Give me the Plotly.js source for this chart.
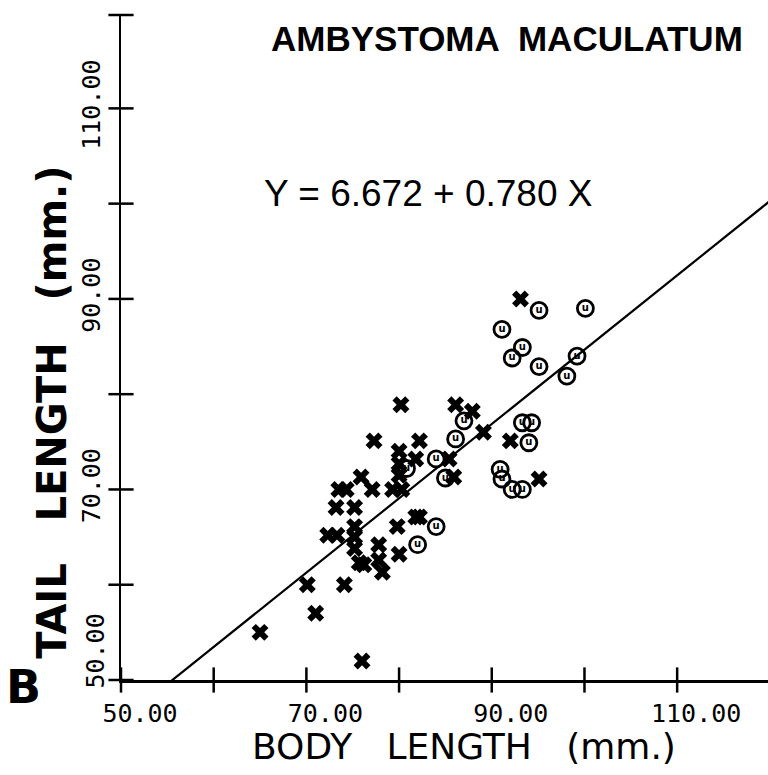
<!DOCTYPE html>
<html>
<head>
<meta charset="utf-8">
<script src="https://cdn.plot.ly/plotly-3.0.1.min.js"></script>
<style>html,body{margin:0;padding:0;background:#fff;}#chart{width:768px;height:775px;}</style>
</head>
<body>
<div id="chart"></div>
<script>
// Crosses (asterisk markers): body length (mm) and tail length (mm)
const crossBody = [65.0, 70.1, 71.0, 74.1, 76.0, 72.3, 73.3, 75.2, 75.2, 75.2, 73.2, 75.2, 73.5, 74.3, 75.9, 77.1, 79.3, 80.3,
  77.3, 82.2, 80.2, 86.1, 80.0, 80.0, 80.0, 81.8, 79.8, 80.0, 77.8, 77.8, 75.7, 76.2, 78.2, 82.2, 81.8, 85.4, 85.9,
  93.1, 89.1, 92.0, 95.1, 87.9];
const crossTail = [55.0, 60.0, 57.0, 60.0, 52.0, 65.2, 65.2, 66.1, 65.0, 63.8, 68.1, 68.1, 70.0, 70.0, 71.3, 70.0, 70.0, 70.0,
  75.1, 75.1, 78.9, 78.9, 74.0, 72.7, 71.5, 73.2, 66.1, 63.2, 64.2, 62.6, 62.3, 62.1, 61.3, 67.1, 67.1, 73.2, 71.3,
  90.0, 76.0, 75.1, 71.1, 78.2];
// Circles (G markers)
const circBody = [87.0, 86.1, 84.0, 85.0, 84.0, 82.0, 95.1, 100.1, 91.1, 93.3, 92.2, 95.1, 99.2, 98.1, 93.3, 94.3, 94.0,
  90.9, 91.1, 92.2, 93.3, 80.8];
const circTail = [77.2, 75.3, 73.2, 71.2, 66.1, 64.2, 88.8, 89.0, 86.8, 84.9, 83.8, 82.9, 84.0, 81.9, 77.0, 77.0, 74.9,
  72.1, 71.1, 70.0, 70.0, 72.2];
// Regression: Y = 6.672 + 0.780 X
const intercept = 6.672, slope = 0.780;
const lineX = [50, 120];
const tickVals = [50, 60, 70, 80, 90, 100, 110];
const xTickText = ['50.00', '', '70.00', '', '90.00', '', '110.00'];
const yTickText = ['', '', '70.00', '', '90.00', '', '110.00'];
const axisRange = [50, 119.8];

const lineY = lineX.map(v => intercept + slope * v);
const mono = 'DejaVu Sans Mono, monospace';
const axisMin = axisRange[0];
const yTickMarks = tickVals.concat([axisRange[1]]);
const traces = [
  {x: lineX, y: lineY, mode: 'lines', line: {color: '#000', width: 2.2}, hoverinfo: 'skip'},
  // tick marks crossing the axis lines
  {x: tickVals, y: tickVals.map(() => axisMin), mode: 'markers', cliponaxis: false, hoverinfo: 'skip',
   marker: {symbol: 'line-ns', size: 18, color: '#000', line: {width: 2.5, color: '#000'}}},
  {x: yTickMarks.map(() => axisMin), y: yTickMarks, mode: 'markers', cliponaxis: false, hoverinfo: 'skip',
   marker: {symbol: 'line-ew', size: 18, color: '#000', line: {width: 2.5, color: '#000'}}},
  {x: crossBody, y: crossTail, mode: 'markers', marker: {symbol: 'x', size: 15, color: '#000', line: {width: 0}}},
  {x: circBody, y: circTail, mode: 'markers+text', text: circBody.map(() => 'u'), textposition: 'middle center',
   textfont: {family: 'DejaVu Sans', size: 10, color: '#000', weight: 'bold'},
   marker: {symbol: 'circle-open', size: 16, color: '#000', line: {width: 2.8, color: '#000'}}}
];
const axBase = {range: axisRange, tickvals: tickVals, showgrid: false, zeroline: false,
  showline: true, linecolor: '#000', linewidth: 2.5, ticks: '', ticklabelstandoff: 9};
const layout = {
  width: 768, height: 775, showlegend: false,
  paper_bgcolor: '#fff', plot_bgcolor: '#fff',
  margin: {l: 121, r: 0, t: 15, b: 95},
  xaxis: Object.assign({}, axBase, {ticktext: xTickText, tickangle: 0, ticklabelshift: 19,
    tickfont: {family: mono, size: 25, color: '#000'}}),
  yaxis: Object.assign({}, axBase, {ticktext: yTickText, tickangle: -90,
    tickfont: {family: mono, size: 25, color: '#000'}}),
  annotations: [
    {text: 'AMBYSTOMA  MACULATUM', xref: 'paper', yref: 'paper', x: 0.597, y: 0.965, xanchor: 'center', yanchor: 'middle',
     showarrow: false, font: {family: 'Liberation Sans', size: 35, color: '#000', weight: 'bold'}},
    {text: 'Y = 6.672 + 0.780 X', xref: 'paper', yref: 'paper', x: 0.218, y: 0.732, xanchor: 'left', yanchor: 'middle',
     showarrow: false, font: {family: 'Liberation Sans', size: 37, color: '#000'}},
    {text: 'BODY   LENGTH   (mm.)', xref: 'paper', yref: 'paper', x: 0.53, y: -0.1, xanchor: 'center', yanchor: 'middle',
     showarrow: false, font: {family: 'DejaVu Sans', size: 36, color: '#000'}},
    {text: 'TAIL   LENGTH   (mm.)', xref: 'paper', yref: 'paper', x: -0.107, y: 0.403, xanchor: 'center', yanchor: 'middle',
     textangle: -90, showarrow: false, font: {family: 'DejaVu Sans', size: 40, color: '#000', weight: 'bold'}},
    {text: '50.00', xref: 'paper', yref: 'y', x: -0.04, y: 53, xanchor: 'center', yanchor: 'middle',
     textangle: -90, showarrow: false, font: {family: mono, size: 25, color: '#000'}},
    {text: 'B', xref: 'paper', yref: 'paper', x: -0.15, y: -0.01, xanchor: 'center', yanchor: 'middle',
     showarrow: false, font: {family: 'DejaVu Sans', size: 46, color: '#000', weight: 'bold'}}
  ]
};
Plotly.newPlot('chart', traces, layout, {displayModeBar: false, staticPlot: true});
</script>
</body>
</html>
